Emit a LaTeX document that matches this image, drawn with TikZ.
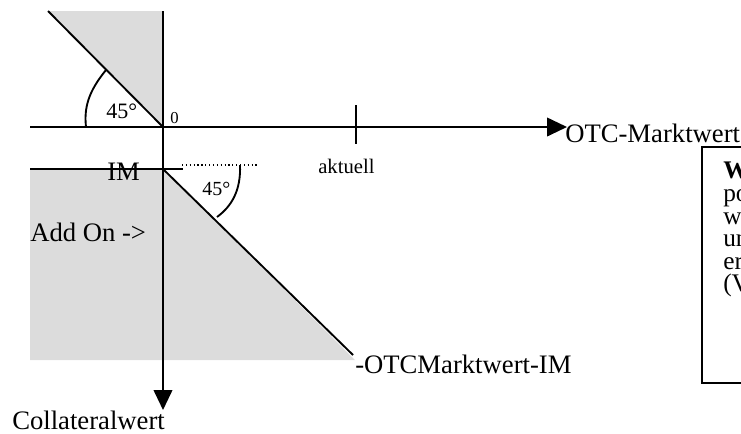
\documentclass[tikz,border=0pt]{standalone}
\usepackage{fontspec}
\setmainfont{Liberation Serif}
\usetikzlibrary{arrows.meta}
\definecolor{areagray}{RGB}{220,220,220}
\begin{document}
\begin{tikzpicture}[x=0.75pt,y=-0.75pt,
  axis/.style={line width=1.4pt},
  tri/.style={-{Triangle[length=15pt,width=14pt]}},
  lbl/.style={inner sep=0pt,anchor=base west,font=\fontsize{20}{24}\selectfont},
  boxtxt/.style={inner sep=0pt,align=left,font=\fontsize{19}{16.95}\selectfont}]
\useasboundingbox (0,0) rectangle (741,433);
\clip (0,0) rectangle (741,433);
% key points
\coordinate (O) at (163,127);
\coordinate (ytop) at (163,11);
\coordinate (yend) at (163,410);
\coordinate (xstart) at (30,127);
\coordinate (xend) at (567,127);
\coordinate (ul) at (48,11);
\coordinate (imL) at (30,169);
\coordinate (imP) at (163,169);
\coordinate (imR) at (183,169);
\coordinate (dR) at (353,355);
\coordinate (dotL) at (182,165);
\coordinate (dotR) at (257,165);
\coordinate (tickT) at (356,105);
\coordinate (tickB) at (356,144);
% shaded regions
\fill[areagray] (ul) -- (ytop) -- (O) -- cycle;
\fill[areagray] (imL) -- (imP) -- (355,360) -- (30,360) -- cycle;
% labels
\node[lbl] (otc) at (565,142) {OTC-Marktwert};
\node[lbl] (neg) at (355,373) {-OTCMarktwert-IM};
\node[lbl] (addon) at (30,241) {Add On ->};
\node[lbl] (coll) at (12,429) {Collateralwert};
\node[lbl] (im) at (107,180) {IM};
\node[inner sep=0pt,anchor=base west,font=\fontsize{15.5}{18}\selectfont] (akt) at (318,173) {aktuell};
\node[inner sep=0pt,anchor=base west,font=\fontsize{12.5}{15}\selectfont] (zero) at (170,123) {0};
\node[inner sep=0pt,anchor=base west,font=\fontsize{16.5}{19}\selectfont] (a1) at (106,118) {45°};
\node[inner sep=0pt,anchor=base west,font=\fontsize{15}{18}\selectfont] (a2) at (202,195) {45°};
% axes
\draw[axis,tri] (xstart) -- (xend);
\draw[axis,tri] (ytop) -- (yend);
\draw[axis] (tickT) -- (tickB);
% diagonals
\draw[axis] (ul) -- (O);
\draw[axis] (imL) -- (imR);
\draw[axis] (imP) -- (dR);
\draw[line width=0.9pt,dotted] (dotL) -- (dotR);
% angle arcs
\draw[axis] (106,70) .. controls (88,92) and (84,108) .. (86,127);
\draw[axis] (240,165) .. controls (241,190) and (232,206) .. (217,217);
% box (cut off at right edge)
\draw[line width=1.4pt] (702,383) -- (702,147) -- (760,147) -- (760,383) -- cycle;
\node[boxtxt,anchor=north west] (btext) at (723,162)
  {\textbf{W}\\po\\w\\un\\er\\(V};
\end{tikzpicture}
\end{document}
